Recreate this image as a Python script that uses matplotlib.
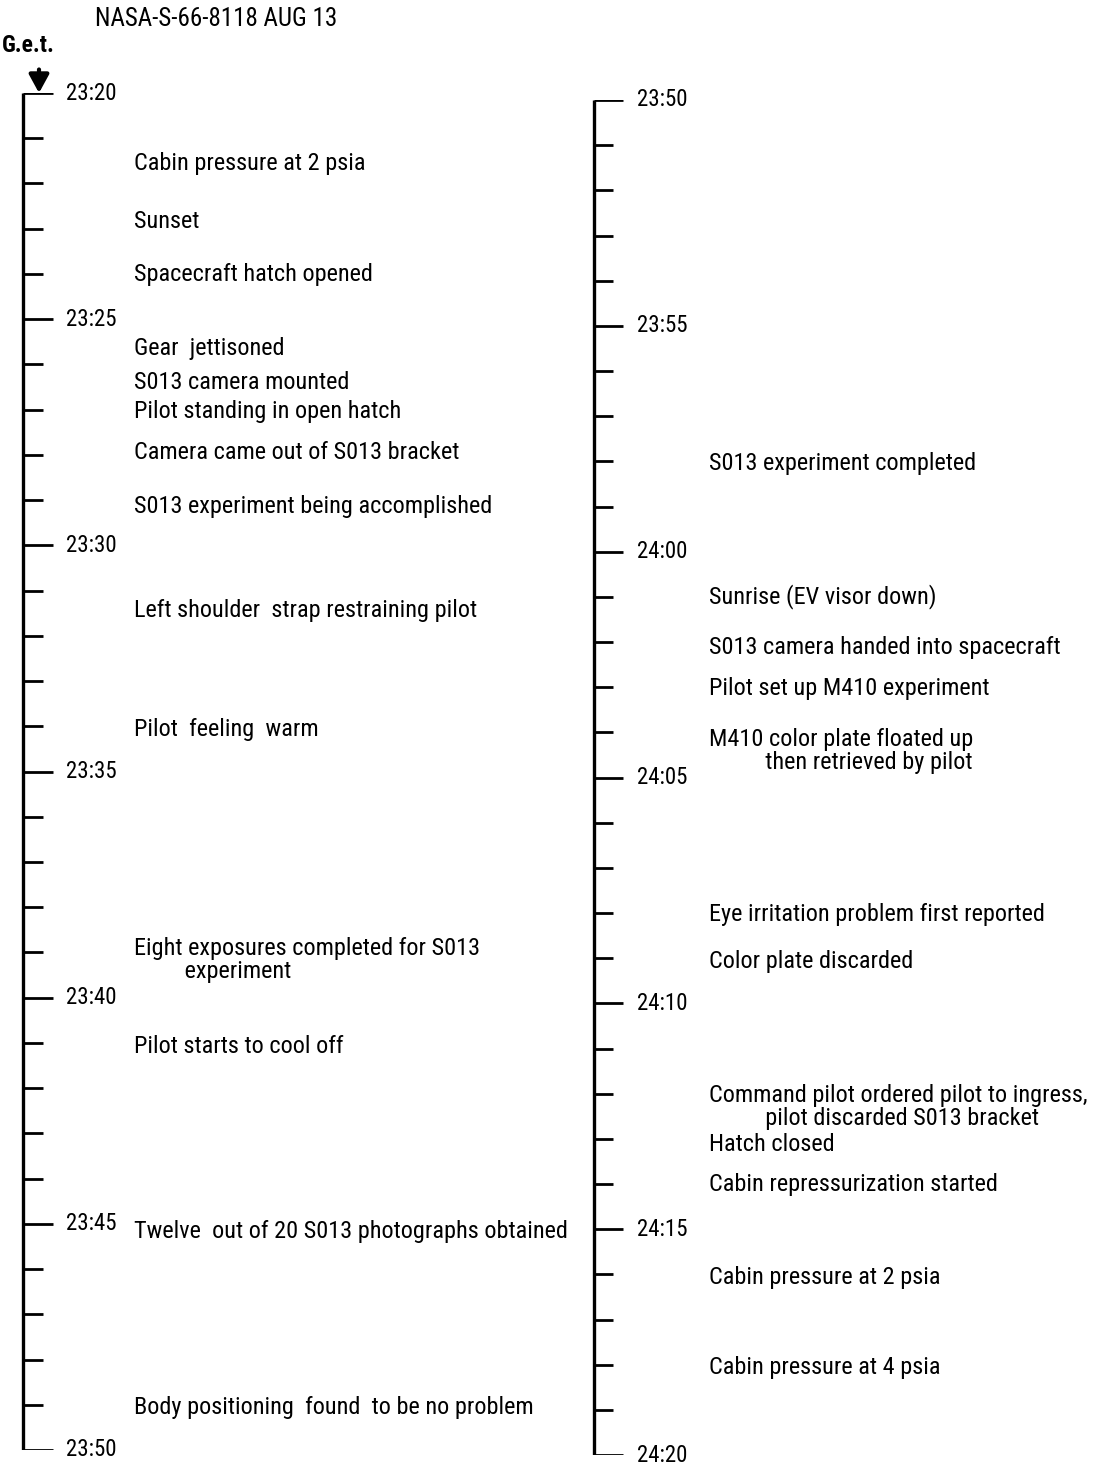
import numpy as np
import matplotlib.pyplot as plt
from matplotlib import font_manager

# time scale labels (every 5 minutes), one column per half hour
left_tick_labels = ["23:20", "23:25", "23:30", "23:35", "23:40", "23:45", "23:50"]
right_tick_labels = ["23:50", "23:55", "24:00", "24:05", "24:10", "24:15", "24:20"]

# events: minutes after the column start
left_event_min = [1.55, 2.85, 4.02, 5.64, 6.39, 7.05, 7.94, 9.15,
                  11.43, 14.08, 19.17, 21.09, 25.18, 29.07]
left_event_text = [
    "Cabin pressure at 2 psia",
    "Sunset",
    "Spacecraft hatch opened",
    "Gear  jettisoned",
    "S013 camera mounted",
    "Pilot standing in open hatch",
    "Camera came out of S013 bracket",
    "S013 experiment being accomplished",
    "Left shoulder  strap restraining pilot",
    "Pilot  feeling  warm",
    "Eight exposures completed for S013\n         experiment",
    "Pilot starts to cool off",
    "Twelve  out of 20 S013 photographs obtained",
    "Body positioning  found  to be no problem",
]

right_event_min = [8.04, 11.0, 12.13, 13.02, 14.41, 18.04, 19.08,
                   22.29, 23.13, 24.02, 26.08, 28.07]
right_event_text = [
    "S013 experiment completed",
    "Sunrise (EV visor down)",
    "S013 camera handed into spacecraft",
    "Pilot set up M410 experiment",
    "M410 color plate floated up\n          then retrieved by pilot",
    "Eye irritation problem first reported",
    "Color plate discarded",
    "Command pilot ordered pilot to ingress,\n          pilot discarded S013 bracket",
    "Hatch closed",
    "Cabin repressurization started",
    "Cabin pressure at 2 psia",
    "Cabin pressure at 4 psia",
]

# pick a narrow sans that is installed
installed = {f.name for f in font_manager.fontManager.ttflist}
narrow = [n for n in ["Roboto Condensed", "Archivo Narrow", "PT Sans Narrow",
                      "Fira Sans Condensed", "IBM Plex Sans Condensed",
                      "Encode Sans Condensed", "Liberation Sans Narrow"]
          if n in installed]
FONT = narrow[:1] + ["DejaVu Sans"]
FS = 17.5

W, H = 1116, 1465
fig = plt.figure(figsize=(W / 100, H / 100), dpi=100)


def make_column(top_px, bottom_px, spine_x, minor_end, major_end, label_x,
                text_x, tick_labels, ev_min, ev_text):
    ax = fig.add_axes([0, (H - bottom_px) / H, 1, (bottom_px - top_px) / H])
    ax.set_xlim(0, W)
    ax.set_ylim(30, 0)
    ax.axis("off")
    ax.patch.set_alpha(0)

    minutes = np.arange(31)
    ax.vlines(spine_x, 0, 30, color="black", lw=2.4)
    major = minutes % 5 == 0
    ax.hlines(minutes[~major], spine_x, minor_end, color="black", lw=2.0)
    ax.hlines(minutes[major], spine_x, major_end, color="black", lw=2.0)
    for m, lab in zip(minutes[major], tick_labels):
        ax.text(label_x, m, lab, family=FONT, fontsize=16.5, va="center",
                ha="left")
    for m, t in zip(ev_min, ev_text):
        ax.text(text_x, m, t, family=FONT, fontsize=FS, va="center",
                ha="left", linespacing=1.0)
    return ax


axl = make_column(93, 1450, 23, 43, 53, 66, 134, left_tick_labels,
                  left_event_min, left_event_text)
axr = make_column(100, 1455, 594, 613, 623, 637, 709, right_tick_labels,
                  right_event_min, right_event_text)

# G.e.t. arrow pointing at the start of the scale
axl.annotate("", xy=(39, 0), xytext=(39, -0.52),
             arrowprops=dict(arrowstyle="-|>,head_width=0.3,head_length=0.55",
                             lw=3, color="black", shrinkA=0, shrinkB=0,
                             mutation_scale=20))

fig.text(2 / W, 1 - 46 / H, "G.e.t.", family=FONT, fontsize=17,
         va="center", ha="left", weight="bold")
fig.text(95 / W, 1 - 19 / H, "NASA-S-66-8118 AUG 13", family=FONT,
         fontsize=18, va="center", ha="left")

fig.savefig("out.png", dpi=100, facecolor="white")
